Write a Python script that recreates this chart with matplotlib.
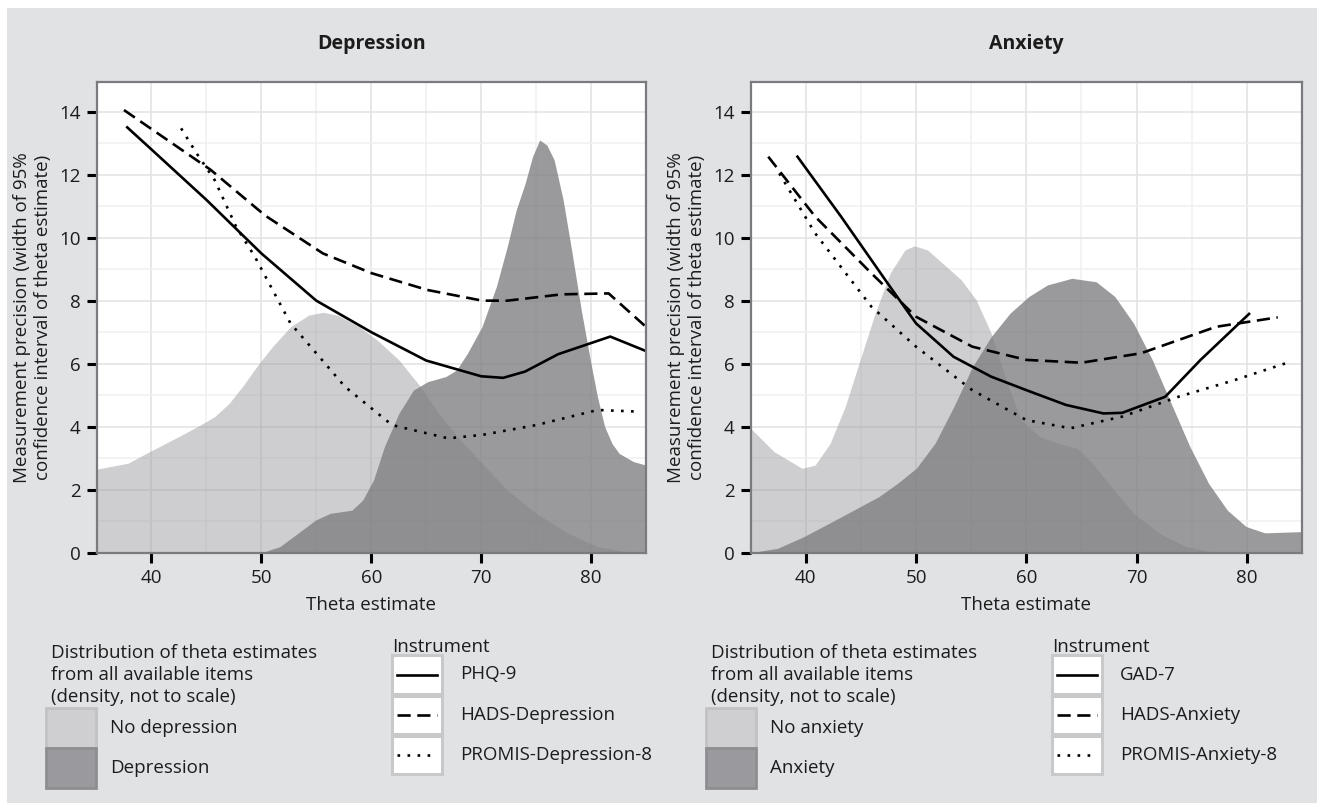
import numpy as np
import matplotlib.pyplot as plt
from matplotlib.patches import Rectangle
from matplotlib.lines import Line2D

plt.rcParams['font.family'] = ['Open Sans', 'DejaVu Sans']

# ---------------- data ----------------
# Depression panel: densities (not to scale)
dep_nodep_x = [35.0, 37.86, 39.84, 42.46, 44.44, 45.75, 47.07, 48.38, 49.69, 51.01, 52.65, 54.3, 55.61, 56.92,
               58.9, 60.54, 62.51, 64.48, 66.13, 68.1, 70.07, 72.37, 75.0, 77.95, 80.58, 83.21, 85.0]
dep_nodep_y = [2.65, 2.84, 3.21, 3.68, 4.05, 4.32, 4.74, 5.32, 5.96, 6.54, 7.17, 7.54, 7.63, 7.54,
               7.17, 6.75, 6.12, 5.27, 4.42, 3.58, 2.84, 1.99, 1.25, 0.61, 0.19, 0.03, 0.0]
dep_dep_x = [35.0, 50.0, 51.67, 53.31, 54.95, 56.27, 58.24, 59.22, 60.21, 61.2, 62.51, 63.83, 65.14, 66.78,
             67.77, 68.75, 70.07, 71.38, 72.37, 73.19, 74.0, 74.67, 75.32, 75.98, 76.64, 77.46, 78.28,
             79.11, 79.93, 80.58, 81.24, 81.9, 82.56, 83.87, 85.0]
dep_dep_y = [0.0, 0.0, 0.19, 0.61, 1.04, 1.25, 1.35, 1.67, 2.31, 3.37, 4.42, 5.16, 5.43, 5.59,
             5.8, 6.33, 7.17, 8.44, 9.71, 10.88, 11.72, 12.57, 13.1, 12.94, 12.47, 11.2, 9.5,
             7.7, 6.12, 4.95, 4.0, 3.47, 3.15, 2.89, 2.78]

# Depression panel: precision curves
phq9_x = [37.8, 40.0, 45.0, 50.0, 55.0, 60.0, 65.0, 70.0, 72.0, 74.0, 77.0, 81.75, 85.0]
phq9_y = [13.5, 12.8, 11.2, 9.5, 8.0, 7.0, 6.1, 5.6, 5.55, 5.75, 6.3, 6.86, 6.4]
hadsd_x = [37.5, 45.4, 50.35, 55.6, 60.05, 65.1, 70.1, 72.4, 77.3, 81.6, 85.0]
hadsd_y = [14.05, 12.15, 10.7, 9.5, 8.87, 8.34, 8.0, 8.0, 8.2, 8.23, 7.17]
promisd_x = [42.7, 44.1, 45.75, 47.7, 49.4, 52.65, 55.0, 57.6, 61.9, 67.0, 70.1, 75.0, 80.6, 84.2]
promisd_y = [13.47, 12.68, 11.83, 10.35, 9.4, 7.28, 6.33, 5.27, 4.05, 3.63, 3.74, 4.05, 4.53, 4.48]

# Anxiety panel: densities
anx_noanx_x = [35.0, 37.11, 39.66, 40.85, 42.21, 43.57, 44.93, 46.29, 47.65, 49.0, 49.85, 51.04, 52.4, 54.1,
               55.46, 56.82, 58.18, 59.54, 61.24, 62.94, 64.63, 66.0, 67.69, 69.73, 72.11, 74.49, 77.21, 85.0]
anx_noanx_y = [3.95, 3.21, 2.68, 2.78, 3.47, 4.63, 6.12, 7.6, 8.87, 9.61, 9.74, 9.61, 9.19, 8.66,
               8.02, 6.96, 5.48, 4.21, 3.68, 3.47, 3.31, 2.84, 2.1, 1.25, 0.61, 0.19, 0.0, 0.0]
anx_anx_x = [35.0, 37.45, 39.83, 43.23, 46.63, 48.32, 50.02, 51.72, 53.42, 55.12, 56.82, 58.52, 60.22, 61.92,
             64.13, 66.33, 68.03, 69.73, 71.43, 73.13, 74.83, 76.53, 78.23, 79.93, 81.62, 85.0]
anx_anx_y = [0.0, 0.14, 0.51, 1.14, 1.78, 2.2, 2.68, 3.47, 4.63, 5.9, 6.86, 7.6, 8.13, 8.5,
             8.71, 8.6, 8.13, 7.28, 6.12, 4.74, 3.37, 2.2, 1.35, 0.83, 0.63, 0.67]

# Anxiety panel: precision curves
gad7_x = [39.25, 43.2, 47.65, 50.0, 53.4, 56.8, 60.0, 63.6, 67.0, 68.7, 72.6, 75.8, 80.2]
gad7_y = [12.57, 10.67, 8.44, 7.28, 6.22, 5.59, 5.16, 4.69, 4.42, 4.44, 4.95, 6.12, 7.58]
hadsa_x = [36.6, 40.85, 45.95, 50.0, 55.1, 60.0, 65.0, 70.4, 73.8, 77.2, 82.8]
hadsa_y = [12.57, 10.67, 8.87, 7.49, 6.54, 6.12, 6.03, 6.33, 6.75, 7.17, 7.47]
promisa_x = [37.6, 40.85, 45.95, 50.0, 55.1, 60.0, 64.0, 68.7, 73.8, 78.9, 83.5]
promisa_y = [12.04, 10.14, 7.81, 6.54, 5.16, 4.21, 3.95, 4.32, 4.95, 5.48, 6.01]

panels = [
    dict(title='Depression', dens=[(dep_nodep_x, dep_nodep_y), (dep_dep_x, dep_dep_y)],
         lines=[(phq9_x, phq9_y), (hadsd_x, hadsd_y), (promisd_x, promisd_y)],
         fill_labels=['No depression', 'Depression'],
         line_labels=['PHQ-9', 'HADS-Depression', 'PROMIS-Depression-8']),
    dict(title='Anxiety', dens=[(anx_noanx_x, anx_noanx_y), (anx_anx_x, anx_anx_y)],
         lines=[(gad7_x, gad7_y), (hadsa_x, hadsa_y), (promisa_x, promisa_y)],
         fill_labels=['No anxiety', 'Anxiety'],
         line_labels=['GAD-7', 'HADS-Anxiety', 'PROMIS-Anxiety-8']),
]

# ---------------- styling ----------------
W, H = 1317, 806
BG = '#e1e2e4'
TXT = '#1c1c1c'
fill_cols = [('#9e9ea2', 0.5), ('#7c7c80', 0.77)]
key_face = ['#cfcfd1', '#9a999e']
key_edge = ['#c2c2c4', '#8e8e92']
styles = [dict(ls='-'), dict(ls=(0, (5, 2.5))), dict(ls=(0, (1, 2.8)))]
lw = 1.9
fs = 13.5


def fx(px):
    return px / W


def fy(py):
    return 1 - py / H


fig = plt.figure(figsize=(W / 100, H / 100), dpi=100)
fig.patch.set_facecolor('white')
fig.add_artist(Rectangle((fx(7), fy(803)), 1 - fx(7), fy(8) - fy(803), transform=fig.transFigure,
                         facecolor=BG, edgecolor='none', zorder=-10))


def rect(x0, y0, x1, y1, **kw):
    fig.add_artist(Rectangle((fx(x0), fy(y1)), fx(x1) - fx(x0), fy(y0) - fy(y1),
                             transform=fig.transFigure, **kw))


ax_left = [96.5, 750.6]
ax_right = [646, 1302]
ax_top, ax_bot = 81.7, 552.7

for i, p in enumerate(panels):
    x0, x1 = ax_left[i], ax_right[i]
    ax = fig.add_axes([fx(x0), fy(ax_bot), fx(x1) - fx(x0), fy(ax_top) - fy(ax_bot)])
    ax.set_facecolor('white')

    for (dx, dy), (c, a) in zip(p['dens'], fill_cols):
        ax.fill_between(dx, 0, dy, color=c, alpha=a, lw=0, zorder=2)
    for (lx, ly), st in zip(p['lines'], styles):
        ax.plot(lx, ly, color='black', lw=lw, zorder=3, **st)

    ax.set_xlim(35, 85)
    ax.set_ylim(0, 14.95)
    ax.set_xticks([40, 50, 60, 70, 80])
    ax.set_yticks(np.arange(0, 15, 2))
    ax.set_xticks([35, 45, 55, 65, 75, 85], minor=True)
    ax.set_yticks(np.arange(1, 15, 2), minor=True)
    ax.grid(which='major', color='#e2e2e3', lw=1.1, zorder=0)
    ax.grid(which='minor', color='#f0f0f0', lw=1.1, zorder=0)
    ax.set_axisbelow(True)
    ax.tick_params(which='major', length=7.5, width=2.2, color='black', labelsize=fs,
                   labelcolor=TXT, pad=4)
    ax.tick_params(which='minor', length=0)
    for s in ax.spines.values():
        s.set_color('#7a7b7f')
        s.set_linewidth(1.6)
        s.set_zorder(5)

    cx = (x0 + x1) / 2
    fig.text(fx(cx), fy(44), p['title'], ha='center', va='center', fontsize=14,
             fontweight='bold', color=TXT)
    fig.text(fx(cx), fy(605), 'Theta estimate', ha='center', va='center', fontsize=fs, color=TXT)
    fig.text(fx(x0 - 64), fy((ax_top + ax_bot) / 2),
             'Measurement precision (width of 95%\nconfidence interval of theta estimate)',
             rotation=90, ha='center', va='center', multialignment='center',
             fontsize=fs, color=TXT, linespacing=1.2)

    # legends
    off = 0 if i == 0 else 660
    fig.text(fx(50.7 + off), fy(675),
             'Distribution of theta estimates\nfrom all available items\n(density, not to scale)',
             ha='left', va='center', fontsize=fs, color=TXT, linespacing=1.27)
    for k, (y0, y1) in enumerate([(708, 747.5), (748, 788)]):
        rect(45.7 + off, y0, 95.7 + off, y1, facecolor=key_face[k], edgecolor=key_edge[k], lw=2)
        fig.text(fx(110 + off), fy((y0 + y1) / 2), p['fill_labels'][k], ha='left', va='center',
                 fontsize=fs, color=TXT)

    fig.text(fx(391.7 + off), fy(647), 'Instrument', ha='left', va='center', fontsize=fs, color=TXT)
    for k, (y0, y1) in enumerate([(655, 694), (696, 734), (736, 774)]):
        rect(391.7 + off, y0, 441.7 + off, y1, facecolor='white', edgecolor='#c8c9cb', lw=2.2)
        yc = (y0 + y1) / 2
        fig.add_artist(Line2D([fx(396.7 + off), fx(436.7 + off)], [fy(yc), fy(yc)],
                              transform=fig.transFigure, color='black', lw=lw, **styles[k]))
        fig.text(fx(460 + off), fy(yc), p['line_labels'][k], ha='left', va='center',
                 fontsize=fs, color=TXT)

fig.savefig('out.png', dpi=100)
